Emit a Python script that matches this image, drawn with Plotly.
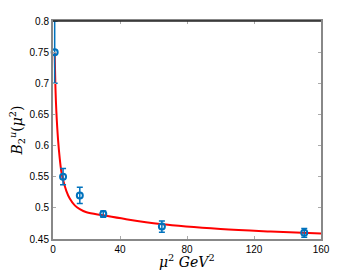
import plotly.graph_objects as go

# Data points (mu^2 in GeV^2, B value, error)
mu2_data = [1, 6, 16, 30, 65, 150]
b_data = [0.75, 0.55, 0.52, 0.49, 0.47, 0.46]
b_err = [0.05, 0.013, 0.013, 0.005, 0.009, 0.007]

# Fitted curve, values
mu2_curve = [1, 1.5, 2, 3, 4, 5, 6, 8, 10, 13, 16, 20, 30, 43, 64, 100, 130, 160]
b_curve = [0.75, 0.69, 0.655, 0.61, 0.58, 0.558, 0.545, 0.527, 0.515, 0.504,
           0.498, 0.493, 0.488, 0.482, 0.474, 0.466, 0.462, 0.459]

x_ticks = [0, 40, 80, 120, 160]
y_ticks = [0.45, 0.5, 0.55, 0.6, 0.65, 0.7, 0.75, 0.8]
y_tick_labels = ["0.45", "0.5", "0.55", "0.6", "0.65", "0.7", "0.75", "0.8"]

blue = "#0072BD"

fig = go.Figure()
fig.add_trace(go.Scatter(
    x=mu2_curve, y=b_curve, mode="lines", line=dict(color="red", width=2, shape="spline"),
    hoverinfo="skip", showlegend=False))
fig.add_trace(go.Scatter(
    x=mu2_data, y=b_data, mode="markers",
    marker=dict(symbol="circle-open", size=6, color=blue, line=dict(width=2, color=blue)),
    error_y=dict(type="data", array=b_err, visible=True, color=blue, thickness=1.5, width=3),
    showlegend=False, cliponaxis=False))

axis_common = dict(showgrid=False, zeroline=False, showline=True, linecolor="#888888",
                   linewidth=2, mirror="ticks", ticks="inside", ticklen=3, tickcolor="#aaaaaa",
                   automargin=False,
                   tickfont=dict(family="Arial, Liberation Sans, sans-serif", size=10, color="black"))

fig.update_xaxes(range=[0, 160], tickvals=x_ticks, **axis_common)
fig.update_yaxes(range=[0.45, 0.8], tickvals=y_ticks, ticktext=y_tick_labels,
                 title=dict(text="<i>B</i><sub>2</sub><sup><i>u</i></sup>(<i>μ</i><sup>2</sup>)",
                            font=dict(family="DejaVu Serif, serif", size=14, color="black"), standoff=4),
                 **axis_common)

fig.add_annotation(text="<i>μ</i><sup>2</sup> <i>GeV</i><sup>2</sup>", xref="paper", yref="paper",
                   x=0.5, y=0, yanchor="top", yshift=-11, showarrow=False,
                   font=dict(family="DejaVu Serif, serif", size=14, color="black"))

fig.add_shape(type="line", xref="paper", yref="paper", x0=0, x1=1, y0=1, y1=1,
              line=dict(color="#222222", width=1.5))

fig.update_layout(width=354, height=273, margin=dict(l=53, r=33, t=21, b=34),
                  plot_bgcolor="white", paper_bgcolor="white")

fig.write_html("out.html", config={"displayModeBar": False},
               post_script="document.body.style.margin='0';")
